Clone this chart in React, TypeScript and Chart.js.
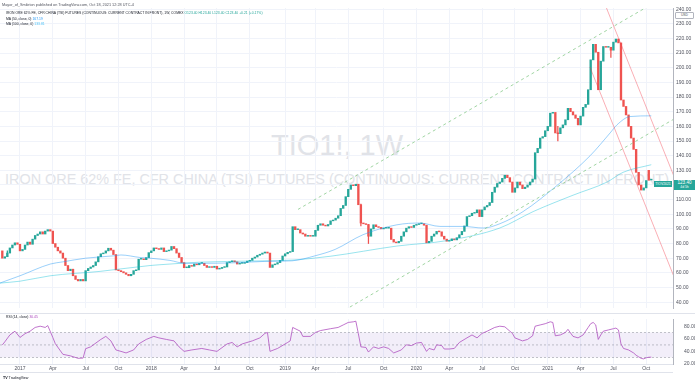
import React, { useEffect, useRef } from "react";
import { Chart, registerables } from "chart.js";
Chart.register(...registerables);

// ---------- DATA ----------
// weekly bars, index 0 = week of 14 Nov 2016, index 257 = week of 18 Oct 2021
const firstOpen = 75;
const closes: number[] = [
  70, 71, 73.5, 77, 79, 80.5, 79.5, 75, 76, 79,
  81, 79.5, 83, 85.5, 86.5, 88, 86.5, 88.5, 89.5, 88.5,
  80, 77.5, 75, 73.5, 70, 65, 61.5, 62.5, 58, 55.5,
  54.5, 55.5, 54.5, 61.5, 63, 64, 65, 67.5, 71, 73,
  73.5, 75, 76.8, 75.5, 72.5, 62, 61.5, 60.8, 60, 59,
  58, 59, 61.5, 62, 69.3, 69.5, 69, 70.4, 73.8, 75,
  77, 76.5, 76, 77, 74.5, 75, 75.5, 78, 76.5, 73.5,
  70.5, 67, 63.5, 63.5, 65, 64.5, 66, 65.5, 66.5, 66.5,
  65, 63.7, 64, 63.7, 64.5, 62.6, 63, 63.7, 64, 67,
  67.5, 68.2, 67.5, 66, 66.5, 66.5, 67, 68, 68.5, 70,
  70.8, 72, 72.7, 73.5, 74.2, 73.5, 63.7, 65.5, 66, 67,
  68.5, 71.5, 73, 74, 74.5, 91.5, 89.5, 89.5, 87.2, 86.5,
  85, 85.5, 85, 85, 89, 92.5, 93.5, 92.5, 92, 93,
  95.5, 96, 97.3, 99, 104, 106, 112, 117, 120, 119.5,
  120.5, 106.5, 94, 93.5, 93, 85, 90, 92.8, 91.5, 91,
  90, 90.5, 90.5, 90.5, 82.8, 81, 80.5, 81.5, 85, 88,
  90.5, 91.5, 91, 92.5, 93, 93.5, 93.5, 92.5, 80.5, 81.5,
  85, 86.5, 88.3, 88, 85, 83, 81.6, 82, 83.2, 82.5,
  84, 86, 88.3, 92, 98.4, 99, 100.7, 101, 103, 98.4,
  103, 105, 106, 108, 115, 118.5, 121, 122, 124.5, 126.6,
  125, 122, 115, 118, 122, 120, 117.5, 118.5, 120, 122,
  124, 142, 145, 152, 153, 157, 160, 169, 169.5, 155.5,
  155, 159, 161, 164.5, 172.3, 170, 167.8, 165.5, 161, 167,
  173, 175, 185, 205.4, 216, 210.6, 185, 204.5, 214.5, 214,
  214, 212, 217.5, 219.6, 217, 178, 173.6, 167.8, 160, 152,
  144.3, 128.6, 120, 116.5, 118, 123, 123.19, 123.4,
];
// weeks whose open differs from the previous close (contract roll / current bar)
const openOverrideWeeks = [256, 257];
const openOverrideValues = [130, 123.4];

const wickWeeks = [2, 142, 145, 220, 241];
const wickLows = [71, 92, 80, 150, 207];
const wickHighs = [75, 107, 93, 160, 214];

const ma50Weeks = [-1, 7, 19, 24, 33, 44, 47, 54.5, 58.5, 66.4, 72.3, 78.3, 91, 104, 114.7, 123.8, 131.8, 142.8, 156.3, 165.4, 173.3, 182.5, 190.4, 197, 206.2, 219.7, 232.8, 240.7, 243.4, 248.6, 257];
const ma50Values = [53, 58, 66, 67.5, 70, 71.6, 72.2, 70.5, 70, 68.5, 66.5, 66.5, 66.8, 67.8, 68.2, 71.6, 76, 86, 92.8, 94, 91.7, 91.7, 90.6, 93.5, 101.8, 119.7, 140, 155.5, 161, 166.7, 167.19];

const ma100Weeks = [-1, 7, 19, 38.7, 58.5, 66.4, 78.3, 104, 114.7, 129.8, 156.3, 176.1, 197, 210.2, 226, 239.5, 245.8, 257];
const ma100Values = [53, 54.3, 58, 61, 65, 66, 67.3, 68.2, 68.7, 71.3, 78.3, 82, 90.6, 101.8, 113, 122, 128.6, 133.81];

const rsiWeeks = [0, 1, 3, 5, 7, 9, 11, 13, 15, 17, 18, 20, 21, 24, 27, 30, 32, 33, 35, 39, 41, 43, 45, 47, 49, 52, 54, 57, 60, 62, 65, 68, 70, 72, 75, 79, 82, 85, 89, 91, 93, 95, 99, 102, 104, 105, 106, 109, 113, 114, 115, 118, 119, 122, 124, 126, 130, 133, 135, 137, 139, 140, 141, 142, 144, 145, 147, 149, 151, 153, 155, 158, 160, 162, 164, 166, 168, 169, 171, 172, 174, 175, 177, 179, 181, 184, 186, 188, 190, 192, 195, 197, 199, 201, 202, 203, 206, 208, 210, 211, 213, 215, 217, 218, 219, 221, 223, 224, 226, 228, 230, 231, 232, 233, 234, 235, 236, 237, 238, 240, 242, 243, 244, 245, 246, 248, 250, 251, 252, 253, 254, 255, 256, 257];
const rsiValues = [50, 55, 66, 72, 62, 68, 72, 78, 80, 78, 81, 62, 52, 35, 32.5, 28.6, 29, 44, 47, 58.8, 63.7, 56.5, 42, 39.7, 37.2, 42, 51.6, 58.8, 63.7, 61.3, 58.8, 56.5, 46.9, 39.7, 42, 44.4, 42, 39.7, 51.6, 54, 46.9, 51.6, 56.5, 61.3, 68.5, 70, 39.7, 44.4, 54, 56.5, 78, 72, 63.7, 63.7, 70, 73, 76, 78, 82, 86, 87, 88, 68, 47, 46, 38.6, 46.9, 44.4, 46.9, 44.4, 37.2, 42, 50.2, 49, 53, 54, 39.7, 44.4, 42, 50.2, 49, 43.5, 43.5, 44.4, 54, 61.3, 66, 61.3, 68.5, 72, 78, 80, 79, 72, 68.5, 61.3, 56.5, 58.8, 64.6, 80, 82, 84, 87, 86, 64.6, 66, 70, 75, 63.7, 61.3, 66, 72, 78, 84, 86, 82, 58.8, 66, 72, 74, 76, 77, 74, 51.6, 44.4, 42, 37.2, 33.5, 31, 28.5, 27.7, 29.5, 30.3, 30.45];

const timeTickWeeks = [7, 20, 33, 46, 59, 72, 85, 98, 112, 124, 137, 151, 164, 177, 190, 203, 216, 229, 242, 255];
const timeTickLabels = ["2017", "Apr", "Jul", "Oct", "2018", "Apr", "Jul", "Oct", "2019", "Apr", "Jul", "Oct", "2020", "Apr", "Jul", "Oct", "2021", "Apr", "Jul", "Oct"];
const priceTicks = [40, 50, 60, 70, 80, 90, 100, 110, 120, 130, 140, 150, 160, 170, 180, 190, 200, 210, 220, 230, 240];
const rsiTicks = [20, 40, 60, 80];

// drawings: [week1, price1, week2, price2]
const greenChannel = [
  [117.1, 103.3, 266, 252.2],
  [117.1, 16.1, 266, 165],
];
const redChannel = [
  [236, 254.8, 266, 125.8],
  [232.7, 200.5, 266, 57.3],
];

// ---------- STYLE ----------
const UP = "#26a69a";
const DOWN = "#ef5350";
const GRID = "#f0f3fa";
const FONT = '"Liberation Sans", Arial, sans-serif';
const X_MIN = -0.91;
const X_MAX = 265.6;

function PriceChart() {
  const ref = useRef<HTMLCanvasElement>(null);
  useEffect(() => {
    const opens = closes.map((c, i) => {
      const k = openOverrideWeeks.indexOf(i);
      if (k >= 0) return openOverrideValues[k];
      return i === 0 ? firstOpen : closes[i - 1];
    });
    const bodies = closes.map((c, i) => ({ x: i, y: [opens[i], c] }));
    const bodyColors = closes.map((c, i) => (c >= opens[i] ? UP : DOWN));
    const wicks = wickWeeks.map((w, k) => ({ x: w, y: [wickLows[k], wickHighs[k]] }));
    const wickColors = wickWeeks.map((w) => (closes[w] >= opens[w] ? UP : DOWN));
    const drawings = {
      id: "drawings",
      afterDatasetsDraw(chart: any) {
        const { ctx, chartArea, scales } = chart;
        const { left, right, top, bottom } = chartArea;
        ctx.save();
        ctx.beginPath();
        ctx.rect(left, top, right - left, bottom - top);
        ctx.clip();
        const draw = (l: number[], color: string, dash: number[]) => {
          ctx.strokeStyle = color;
          ctx.lineWidth = 1;
          ctx.setLineDash(dash);
          ctx.beginPath();
          ctx.moveTo(scales.x.getPixelForValue(l[0]), scales.y.getPixelForValue(l[1]));
          ctx.lineTo(scales.x.getPixelForValue(l[2]), scales.y.getPixelForValue(l[3]));
          ctx.stroke();
        };
        greenChannel.forEach((l) => draw(l, "rgba(129,199,132,0.75)", [3, 3]));
        redChannel.forEach((l) => draw(l, "rgba(242,54,69,0.4)", []));
        ctx.restore();
      },
    };
    const chart = new Chart(ref.current!, {
      type: "bar",
      data: {
        datasets: [
          {
            type: "line",
            data: ma50Weeks.map((w, k) => ({ x: w, y: ma50Values[k] })),
            borderColor: "rgba(33,150,243,0.45)",
            borderWidth: 1,
            pointRadius: 0,
            cubicInterpolationMode: "monotone",
            order: 0,
          } as any,
          {
            type: "line",
            data: ma100Weeks.map((w, k) => ({ x: w, y: ma100Values[k] })),
            borderColor: "rgba(0,188,212,0.4)",
            borderWidth: 1,
            pointRadius: 0,
            cubicInterpolationMode: "monotone",
            order: 0,
          } as any,
          {
            type: "bar",
            data: wicks as any,
            backgroundColor: wickColors,
            barThickness: 0.6,
            grouped: false,
            order: 2,
          } as any,
          {
            type: "bar",
            data: bodies as any,
            backgroundColor: bodyColors,
            barThickness: 1.7,
            minBarLength: 0.8,
            grouped: false,
            order: 1,
          } as any,
        ],
      },
      options: {
        animation: false,
        responsive: false,
        events: [],
        layout: { padding: { top: 8, bottom: 1, left: 0, right: 0 } },
        plugins: { legend: { display: false }, tooltip: { enabled: false } },
        scales: {
          x: {
            type: "linear",
            offset: false,
            min: X_MIN,
            max: X_MAX,
            afterBuildTicks: (s: any) => {
              s.ticks = timeTickWeeks.map((v) => ({ value: v }));
            },
            afterFit: (s: any) => {
              s.height = 0;
            },
            ticks: { display: false },
            grid: { color: GRID, drawTicks: false, offset: false },
            border: { display: false },
          },
          y: {
            type: "linear",
            position: "right",
            min: 36,
            max: 240.8,
            afterBuildTicks: (s: any) => {
              s.ticks = priceTicks.map((v) => ({ value: v }));
            },
            afterFit: (s: any) => {
              s.width = 22;
            },
            ticks: {
              font: { size: 5, family: FONT },
              color: "#50535e",
              padding: 3,
              callback: (v: any) => Number(v).toFixed(2),
            },
            grid: { color: GRID, drawTicks: false },
            border: { display: true, color: "#b2b5be" },
          },
        },
      } as any,
      plugins: [drawings],
    });
    return () => chart.destroy();
  }, []);
  return <canvas ref={ref} width={695} height={314} style={{ position: "absolute", left: 0, top: 0 }} />;
}

function RsiChart() {
  const ref = useRef<HTMLCanvasElement>(null);
  useEffect(() => {
    const band = {
      id: "band",
      beforeDatasetsDraw(chart: any) {
        const { ctx, chartArea, scales } = chart;
        const { left, right } = chartArea;
        const y70 = scales.y.getPixelForValue(70);
        const y50 = scales.y.getPixelForValue(50);
        const y30 = scales.y.getPixelForValue(30);
        ctx.save();
        ctx.fillStyle = "rgba(126,87,194,0.1)";
        ctx.fillRect(left, y70, right - left, y30 - y70);
        ctx.strokeStyle = "rgba(120,123,134,0.55)";
        ctx.lineWidth = 0.8;
        ctx.setLineDash([2, 2]);
        [y70, y50, y30].forEach((yy) => {
          ctx.beginPath();
          ctx.moveTo(left, yy);
          ctx.lineTo(right, yy);
          ctx.stroke();
        });
        ctx.restore();
      },
      afterDraw(chart: any) {
        const { ctx } = chart;
        ctx.save();
        ctx.strokeStyle = "#e0e3eb";
        ctx.lineWidth = 1;
        ctx.beginPath();
        ctx.moveTo(0, 0.5);
        ctx.lineTo(695, 0.5);
        ctx.moveTo(0, 59.5);
        ctx.lineTo(673, 59.5);
        ctx.stroke();
        ctx.restore();
      },
    };
    const chart = new Chart(ref.current!, {
      type: "line",
      data: {
        datasets: [
          {
            data: rsiWeeks.map((w, k) => ({ x: w, y: rsiValues[k] })),
            borderColor: "rgba(171,71,188,0.75)",
            borderWidth: 1,
            pointRadius: 0,
            tension: 0,
          },
        ],
      },
      options: {
        animation: false,
        responsive: false,
        events: [],
        layout: { padding: { top: 1, bottom: 11, left: 0, right: 0 } },
        plugins: { legend: { display: false }, tooltip: { enabled: false } },
        scales: {
          x: {
            type: "linear",
            min: X_MIN,
            max: X_MAX,
            afterBuildTicks: (s: any) => {
              s.ticks = timeTickWeeks.map((v) => ({ value: v }));
            },
            afterFit: (s: any) => {
              s.height = 9;
            },
            ticks: {
              font: { size: 5, family: FONT },
              color: "#50535e",
              padding: 2,
              maxRotation: 0,
              autoSkip: false,
              callback: (v: any) => {
                const k = timeTickWeeks.indexOf(Number(v));
                return k >= 0 ? timeTickLabels[k] : "";
              },
            },
            grid: { color: GRID, drawTicks: false },
            border: { display: true, color: "#e0e3eb" },
          },
          y: {
            type: "linear",
            position: "right",
            min: 19.5,
            max: 91.5,
            afterBuildTicks: (s: any) => {
              s.ticks = rsiTicks.map((v) => ({ value: v }));
            },
            afterFit: (s: any) => {
              s.width = 22;
            },
            ticks: {
              font: { size: 5, family: FONT },
              color: "#50535e",
              padding: 3,
              callback: (v: any) => Number(v).toFixed(2),
            },
            grid: { display: false },
            border: { display: true, color: "#b2b5be" },
          },
        },
      } as any,
      plugins: [band],
    });
    return () => chart.destroy();
  }, []);
  return <canvas ref={ref} width={695} height={71} style={{ position: "absolute", left: 0, top: 313 }} />;
}

const txt = (size: number, top: number, left: number): React.CSSProperties => ({
  position: "absolute",
  left,
  top,
  fontSize: size,
  lineHeight: `${size * 1.2}px`,
  whiteSpace: "nowrap",
  color: "#131722",
});

export default function App() {
  useEffect(() => {
    document.body.style.margin = "0";
  }, []);
  return (
    <div style={{ position: "absolute", left: 0, top: 0, width: 695, height: 384, background: "#fff", overflow: "hidden", fontFamily: FONT }}>
      <div style={{ position: "absolute", left: 337, top: 129, transform: "translateX(-50%)", fontSize: 29, lineHeight: "32px", color: "#e1e3e8", whiteSpace: "nowrap" }}>
        TIO1!, 1W
      </div>
      <div style={{ position: "absolute", left: 337, top: 171, transform: "translateX(-50%)", fontSize: 14.4, lineHeight: "17px", color: "#e1e3e8", whiteSpace: "nowrap" }}>
        IRON ORE 62% FE, CFR CHINA (TSI) FUTURES (CONTINUOUS: CURRENT CONTRACT IN FRONT)
      </div>
      <PriceChart />
      <RsiChart />
      <div style={{ ...txt(3.8, 2.7, 2), color: "#50535e" }}>Mayor_of_Smileton published on TradingView.com, Oct 18, 2021 12:28 UTC-4</div>
      <div style={txt(3.4, 11.3, 6)}>
        IRON ORE 62% FE, CFR CHINA (TSI) FUTURES (CONTINUOUS: CURRENT CONTRACT IN FRONT), 1W, COMEX{"  "}
        <span style={{ color: UP }}>O123.40 H123.40 L123.40 C123.40 +0.21 (+0.17%)</span>
      </div>
      <div style={txt(3.4, 16.7, 6)}>
        MA (50, close, 0) <span style={{ color: "#2196f3" }}>167.19</span>
      </div>
      <div style={txt(3.4, 22.1, 6)}>
        MA (100, close, 0) <span style={{ color: "#4fc3f7" }}>133.81</span>
      </div>
      <div style={txt(3.4, 315.3, 6)}>
        RSI (14, close) <span style={{ color: "#ab47bc" }}>30.45</span>
      </div>
      <div style={{ position: "absolute", left: 675, top: 12, width: 17, height: 5, border: "0.5px solid #b2b5be", borderRadius: 1, fontSize: 3.4, lineHeight: "5px", textAlign: "center", color: "#50535e", background: "#fff" }}>USD</div>
      <div style={{ position: "absolute", left: 654, top: 180.5, width: 18, height: 6, background: UP, color: "#fff", fontSize: 3.4, lineHeight: "6px", textAlign: "center" }}>TIOV2021</div>
      <div style={{ position: "absolute", left: 674, top: 179.5, width: 21, height: 10, background: UP, color: "#fff", textAlign: "center" }}>
        <div style={{ fontSize: 4.6, lineHeight: "5.5px" }}>123.40</div>
        <div style={{ fontSize: 3.4, lineHeight: "4px" }}>4d 5h</div>
      </div>
      <div style={{ ...txt(3.6, 376, 3), fontWeight: 700 }}>
        TV <span style={{ fontWeight: 400 }}>TradingView</span>
      </div>
    </div>
  );
}
